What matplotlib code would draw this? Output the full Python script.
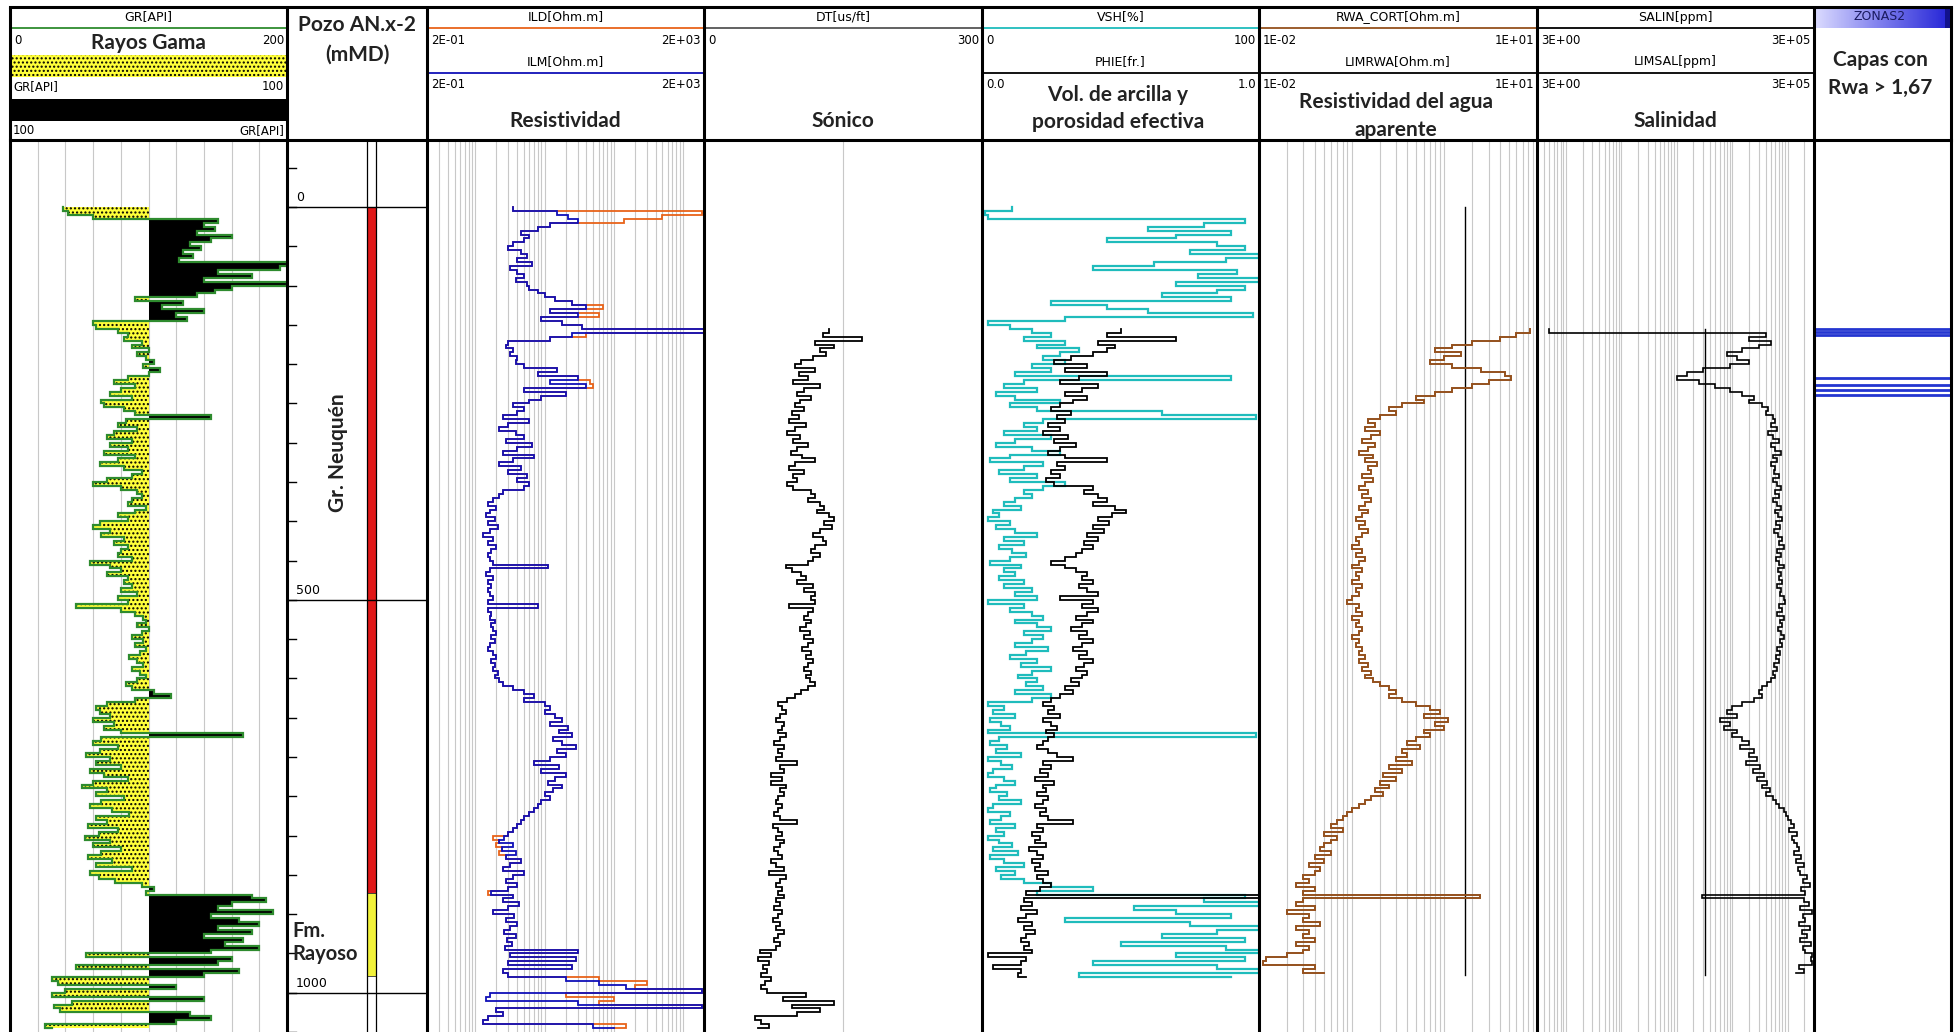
import numpy as np
import matplotlib
matplotlib.use("Agg")
import matplotlib.pyplot as plt
from matplotlib.patches import Rectangle
from matplotlib.colors import LinearSegmentedColormap

gr_top = 0
gr = [38, 42, 60, 150, 140, 148, 135, 160, 145, 130,
      138, 125, 132, 122, 200, 195, 150, 175, 140, 200,
      160, 148, 135, 90, 125, 110, 140, 120, 128, 60,
      62, 78, 85, 82, 95, 88, 100, 92, 98, 104,
      96, 108, 100, 85, 75, 90, 80, 72, 88, 66,
      68, 82, 90, 145, 84, 78, 92, 75, 70, 88,
      72, 85, 68, 90, 78, 65, 82, 95, 88, 70,
      60, 80, 92, 95, 88, 85, 98, 90, 78, 85,
      65, 60, 72, 66, 82, 75, 85, 80, 78, 88,
      58, 72, 80, 70, 85, 82, 88, 80, 92, 78,
      85, 48, 80, 90, 96, 98, 92, 100, 95, 88,
      96, 90, 98, 94, 86, 92, 96, 88, 94, 98,
      92, 84, 88, 104, 116, 90, 70, 62, 65, 72,
      60, 75, 68, 80, 168, 66, 60, 78, 65, 55,
      72, 62, 80, 58, 68, 85, 60, 52, 70, 62,
      82, 66, 58, 74, 86, 62, 70, 56, 78, 64,
      54, 72, 60, 80, 66, 56, 74, 62, 88, 58,
      64, 76, 95, 104, 98, 175, 185, 160, 150, 190,
      145, 165, 180, 150, 175, 140, 168, 155, 180, 145,
      55, 160, 150, 48, 165, 140, 30, 35, 120, 40,
      30, 140, 45, 32, 36, 130, 145, 120, 25, 30]

ilm_top = 0
ilm = [3.5, 15, 22, 30, 12, 8, 4.5, 6, 5, 3.5,
       3, 4.5, 5.5, 4, 6.5, 3.2, 4, 5, 3.8, 5.5,
       6, 8, 10, 14, 25, 40, 12, 30, 9, 18,
       35, 2000, 25, 12, 3, 2.8, 3.5, 3.2, 4, 3.8,
       5, 15, 8, 30, 12, 40, 5, 20, 9, 6,
       3.5, 5, 4, 2.5, 6, 3, 2.2, 3.8, 5, 2.8,
       6.5, 4, 2.5, 7, 3.5, 2.2, 4.5, 3, 5.5, 4,
       6, 5, 2.5, 2.2, 1.8, 1.5, 2.0, 1.6, 1.4, 1.9,
       1.5, 2.1, 1.6, 1.3, 1.8, 1.5, 2.0, 1.7, 1.5, 1.6,
       1.8, 11, 1.6, 1.4, 1.8, 1.5, 1.7, 1.5, 1.6, 1.8,
       1.5, 8, 1.5, 1.7, 1.6, 1.9, 1.7, 1.8, 2.0, 1.7,
       1.9, 1.6, 1.5, 1.8, 2.0, 1.7, 1.9, 1.8, 2.1, 1.9,
       2.2, 2.5, 3.5, 5, 7, 5, 10, 12, 10, 14,
       18, 12, 22, 16, 25, 13, 18, 28, 15, 20,
       12, 7, 16, 9, 20, 14, 11, 18, 13, 10,
       12, 9, 8, 7, 6, 5, 4.5, 4, 3.5, 3,
       2.6, 2.2, 3.5, 2.4, 3.8, 2.8, 4.5, 3.2, 2.5, 5,
       3.5, 2.8, 4, 3, 1.7, 3.5, 2.5, 4.2, 3, 1.8,
       3.6, 2.8, 4, 3.2, 2.6, 3.8, 2.9, 3.4, 2.7, 30,
       3.2, 28, 3, 25, 2.5, 3, 20, 60, 150, 1900,
       1.6, 1.4, 30, 1900, 2, 2.5, 1.5, 1.3, 50, 100]

# ILD sigue a ILM salvo en estas profundidades
ild_fix_depth = [5, 10, 15, 125, 135, 160, 220, 225, 800, 810, 820, 870,
                 980, 985, 990, 1000, 1005, 1010, 1040]
ild_fix_value = [1900, 500, 140, 70, 60, 40, 45, 50, 1.8, 2.0, 2.2, 1.5,
                 60, 300, 200, 20, 100, 60, 150]

dt_top = 155
dt = [135, 128, 170, 120, 140, 125, 132, 118, 105, 98,
      120, 102, 112, 96, 125, 108, 100, 115, 104, 98,
      108, 95, 102, 92, 110, 98, 90, 104, 96, 112,
      100, 94, 106, 120, 98, 92, 108, 96, 100, 90,
      96, 115, 120, 112, 125, 130, 122, 135, 140, 130,
      138, 125, 118, 128, 132, 120, 115, 125, 118, 112,
      88, 95, 105, 110, 100, 118, 108, 120, 115, 120,
      92, 118, 112, 108, 116, 110, 104, 114, 108, 118,
      112, 106, 115, 110, 118, 112, 108, 116, 110, 114,
      120, 112, 105, 98, 90, 80, 84, 88, 82, 78,
      86, 84, 80, 88, 82, 76, 86, 80, 84, 78,
      100, 82, 86, 72, 84, 72, 88, 82, 86, 80,
      78, 84, 80, 76, 82, 100, 74, 80, 84, 78,
      86, 82, 76, 80, 84, 72, 78, 86, 70, 88,
      82, 78, 84, 80, 86, 78, 82, 76, 84, 80,
      74, 82, 78, 86, 80, 76, 82, 78, 60, 72,
      58, 70, 64, 68, 62, 72, 66, 62, 68, 110,
      85, 140, 95, 125, 100, 55, 62, 70, 58]

vsh_top = 0
vsh = [11, 1, 2, 95, 80, 60, 90, 70, 45, 85,
       95, 75, 100, 88, 62, 40, 92, 78, 100, 70,
       95, 85, 65, 90, 25, 45, 60, 98, 30, 2,
       10, 18, 25, 15, 30, 20, 35, 28, 22, 30,
       18, 25, 12, 90, 15, 8, 20, 5, 12, 28,
       10, 20, 65, 99, 22, 15, 20, 8, 25, 12,
       5, 18, 28, 10, 3, 22, 15, 6, 20, 10,
       30, 22, 15, 18, 12, 8, 14, 4, 6, 2,
       10, 5, 12, 20, 8, 15, 6, 11, 16, 10,
       3, 14, 8, 12, 6, 15, 8, 18, 12, 20,
       2, 15, 10, 18, 22, 12, 20, 25, 15, 22,
       18, 12, 24, 16, 10, 20, 14, 25, 18, 13,
       20, 16, 22, 12, 25, 18, 2, 8, 4, 12,
       3, 7, 10, 2, 99, 6, 3, 9, 5, 14,
       2, 7, 11, 4, 2, 8, 12, 5, 3, 9,
       6, 14, 4, 2, 10, 7, 3, 12, 5, 8,
       2, 6, 11, 4, 13, 3, 8, 15, 5, 12,
       7, 15, 25, 40, 20, 95, 80, 100, 55, 70,
       90, 30, 75, 100, 85, 65, 95, 50, 88, 100,
       70, 95, 40, 85, 100, 35, 90]

phie_top = 155
phie = [0.50, 0.45, 0.70, 0.42, 0.48, 0.45, 0.40, 0.32, 0.26, 0.38,
        0.30, 0.45, 0.35, 0.28, 0.42, 0.36, 0.30, 0.38, 0.33, 0.28,
        0.25, 0.32, 0.27, 0.30, 0.24, 0.28, 0.22, 0.31, 0.26, 0.34,
        0.28, 0.24, 0.30, 0.45, 0.27, 0.30, 0.25, 0.28, 0.23, 0.26,
        0.40, 0.37, 0.42, 0.45, 0.40, 0.48, 0.52, 0.47, 0.42, 0.46,
        0.40, 0.44, 0.38, 0.42, 0.37, 0.40, 0.36, 0.34, 0.30, 0.25,
        0.30, 0.34, 0.38, 0.36, 0.40, 0.35, 0.38, 0.42, 0.28, 0.40,
        0.36, 0.42, 0.38, 0.34, 0.40, 0.36, 0.32, 0.38, 0.35, 0.40,
        0.36, 0.33, 0.38, 0.35, 0.40, 0.37, 0.34, 0.38, 0.36, 0.32,
        0.35, 0.30, 0.33, 0.28, 0.25, 0.22, 0.26, 0.24, 0.28, 0.22,
        0.25, 0.27, 0.23, 0.26, 0.24, 0.22, 0.20, 0.24, 0.27, 0.33,
        0.22, 0.25, 0.21, 0.24, 0.19, 0.26, 0.22, 0.23, 0.20, 0.24,
        0.22, 0.19, 0.23, 0.21, 0.24, 0.33, 0.20, 0.22, 0.18, 0.21,
        0.19, 0.23, 0.17, 0.20, 0.22, 0.18, 0.21, 0.19, 0.24, 0.20,
        0.22, 0.25, 0.21, 0.16, 1.0, 0.15, 0.18, 0.14, 0.20, 0.16,
        0.13, 0.18, 0.15, 0.19, 0.16, 0.14, 0.17, 0.15, 0.18, 0.02,
        0.16, 0.14, 0.04, 0.14, 0.13, 0.16]

rwa_top = 155
rwa = [8.5, 6, 4, 2.0, 1.2, 0.8, 1.5, 1.0, 0.7, 1.2,
       2.5, 4.5, 5.3, 3, 2, 1.2, 0.8, 0.5, 0.6, 0.35,
       0.25, 0.3, 0.2, 0.15, 0.18, 0.14, 0.2, 0.16, 0.13, 0.18,
       0.15, 0.12, 0.17, 0.14, 0.19, 0.15, 0.16, 0.13, 0.17, 0.14,
       0.12, 0.15, 0.13, 0.16, 0.14, 0.12, 0.15, 0.13, 0.11, 0.14,
       0.12, 0.15, 0.13, 0.11, 0.12, 0.10, 0.13, 0.11, 0.14, 0.12,
       0.10, 0.13, 0.11, 0.12, 0.10, 0.13, 0.11, 0.12, 0.10, 0.09,
       0.12, 0.11, 0.13, 0.10, 0.12, 0.11, 0.13, 0.12, 0.10, 0.12,
       0.11, 0.13, 0.12, 0.14, 0.12, 0.15, 0.13, 0.16, 0.14, 0.17,
       0.20, 0.25, 0.3, 0.25, 0.35, 0.5, 0.7, 0.9, 0.6, 1.1,
       0.8, 1.0, 0.6, 0.7, 0.5, 0.4, 0.55, 0.35, 0.4, 0.3,
       0.45, 0.25, 0.35, 0.22, 0.3, 0.2, 0.25, 0.18, 0.22, 0.16,
       0.14, 0.12, 0.1, 0.09, 0.08, 0.07, 0.06, 0.08, 0.05, 0.07,
       0.06, 0.05, 0.045, 0.06, 0.04, 0.05, 0.035, 0.045, 0.04, 0.03,
       0.035, 0.025, 0.04, 0.03, 2.45, 0.03, 0.025, 0.04, 0.02, 0.035,
       0.03, 0.045, 0.025, 0.035, 0.03, 0.04, 0.025, 0.035, 0.03, 0.02,
       0.012, 0.011, 0.04, 0.03, 0.05]

salin_top = 155
salin = [5, 40000, 20000, 50000, 30000, 15000, 8000, 12000, 20000, 9000,
         3000, 1500, 1000, 2500, 5000, 9000, 15000, 25000, 20000, 35000,
         45000, 40000, 55000, 60000, 50000, 65000, 45000, 55000, 70000, 50000,
         60000, 75000, 55000, 65000, 50000, 60000, 58000, 70000, 55000, 65000,
         75000, 60000, 70000, 55000, 65000, 75000, 60000, 68000, 80000, 62000,
         72000, 58000, 66000, 80000, 70000, 85000, 65000, 75000, 62000, 70000,
         85000, 68000, 75000, 70000, 80000, 65000, 75000, 72000, 85000, 90000,
         70000, 78000, 65000, 85000, 72000, 80000, 68000, 75000, 85000, 72000,
         78000, 65000, 72000, 62000, 70000, 58000, 65000, 55000, 60000, 50000,
         42000, 35000, 30000, 35000, 25000, 15000, 10000, 8000, 12000, 6000,
         9000, 7000, 12000, 10000, 15000, 20000, 14000, 25000, 20000, 28000,
         18000, 32000, 24000, 38000, 28000, 42000, 34000, 48000, 40000, 55000,
         62000, 70000, 85000, 95000, 100000, 115000, 130000, 105000, 150000, 120000,
         130000, 145000, 160000, 130000, 175000, 140000, 200000, 155000, 170000, 220000,
         190000, 250000, 175000, 210000, 2800, 200000, 240000, 170000, 280000, 190000,
         210000, 160000, 250000, 185000, 220000, 170000, 260000, 190000, 210000, 280000,
         270000, 280000, 160000, 200000, 140000]

limrwa = 1.67
limrwa_range = [0, 978]
limsal = 3300
limsal_range = [155, 978]

zonas = [155, 159, 163, 218, 227, 233, 239]

fm_names = ['Gr. Neuquén', 'Fm.\nRayoso']
fm_top = [0, 873]
fm_base = [873, 979]
fm_color = ['#e01818', '#f2f23a']
depth_labels = [0, 500, 1000]

# ---- layout ----
W, H = 1959, 1032
Y_TOP, Y_BOT = 141, 1032
D_TOP, D_BOT = -84, 1050
EDGES = [10, 287, 427, 704, 982, 1259, 1537, 1814, 1951]

plt.rcParams['hatch.color'] = 'black'
plt.rcParams['hatch.linewidth'] = 1.0

GRID = '#c8c8c8'
C_GR = '#2e8b2e'
C_YEL = '#ffff3a'
C_ILD = '#e8631a'
C_ILM = '#1010b8'
C_VSH = '#1fbcbc'
C_RWA = '#94501c'
TITLE = dict(fontfamily='Lato', fontweight='bold', fontsize=15, color='#222222',
             ha='center', va='center')
SMALL = dict(fontfamily='DejaVu Sans', fontsize=8.5, color='black', va='center')

fig = plt.figure(figsize=(W / 100, H / 100), dpi=100)


def box(x0, x1, y0, y1):
    return fig.add_axes([x0 / W, 1 - y1 / H, (x1 - x0) / W, (y1 - y0) / H])


def depths(top, n):
    return top + 5 * np.arange(n)


def track(i, xlim, log=False):
    ax = box(EDGES[i], EDGES[i + 1], Y_TOP, Y_BOT)
    if log:
        ax.set_xscale('log')
    ax.set_xlim(*xlim)
    ax.set_ylim(D_BOT, D_TOP)
    ax.set_axis_off()
    return ax


def log_grid(ax, lo, hi):
    e0, e1 = int(np.floor(np.log10(lo))), int(np.ceil(np.log10(hi)))
    v = [m * 10.0 ** e for e in range(e0, e1 + 1) for m in range(1, 10)]
    v = [t for t in v if lo * 1.01 < t < hi * 0.99]
    ax.vlines(v, D_TOP, D_BOT, color=GRID, lw=0.8, zorder=0)


def curve(ax, top, vals, color, lw):
    ax.plot(vals, depths(top, len(vals)), color=color, lw=lw,
            drawstyle='steps-pre', solid_joinstyle='miter')


# GR
ax = track(0, (0, 200))
ax.vlines(np.arange(20, 200, 20), D_TOP, D_BOT, color=GRID, lw=0.8, zorder=0)
g = np.array(gr, float)
dg = depths(gr_top, len(g))
ax.fill_betweenx(dg, np.minimum(g, 100), 100, step='post', facecolor=C_YEL,
                 edgecolor='black', hatch='....', linewidth=0)
ax.fill_betweenx(dg, 100, np.maximum(g, 100), step='post', facecolor='black',
                 linewidth=0)
curve(ax, gr_top, g, C_GR, 1.6)

# profundidad
axd = box(EDGES[1], EDGES[2], Y_TOP, Y_BOT)
axd.set_xlim(EDGES[1], EDGES[2])
axd.set_ylim(D_BOT, D_TOP)
axd.set_axis_off()
for t in range(-50, 1051, 50):
    axd.plot([EDGES[1], EDGES[1] + 9], [t, t], color='black', lw=1)
for t in depth_labels:
    axd.axhline(t, color='black', lw=1)
    axd.text(EDGES[1] + 9, t - 4, str(t), ha='left', va='bottom',
             fontfamily='DejaVu Sans', fontsize=9)
axd.axvline(367, color='black', lw=0.9)
axd.axvline(376, color='black', lw=0.9)
for top, base, c in zip(fm_top, fm_base, fm_color):
    axd.add_patch(Rectangle((367, top), 9, base - top, facecolor=c,
                            edgecolor='#333333', lw=0.6))
axd.text(338, 313, fm_names[0], rotation=90, **TITLE)
axd.text(292, 936, fm_names[1], fontfamily='Lato', fontweight='bold',
         fontsize=14.5, color='#222222', ha='left', va='center',
         linespacing=1.15)

# resistividad
ax = track(2, (0.2, 2000), log=True)
log_grid(ax, 0.2, 2000)
ild = np.array(ilm, float)
ild[(np.array(ild_fix_depth) - ilm_top) // 5] = ild_fix_value
curve(ax, ilm_top, ild, C_ILD, 1.3)
curve(ax, ilm_top, ilm, C_ILM, 1.3)

# sonico
ax = track(3, (0, 300))
ax.axvline(150, color=GRID, lw=0.8, zorder=0)
curve(ax, dt_top, dt, 'black', 1.3)

# vsh / phie
ax = track(4, (0, 100))
curve(ax, vsh_top, vsh, C_VSH, 1.6)
axp = ax.twiny()
axp.set_xlim(0, 1)
axp.set_axis_off()
curve(axp, phie_top, phie, 'black', 1.3)

# rwa
ax = track(5, (0.01, 10), log=True)
log_grid(ax, 0.01, 10)
ax.plot([limrwa, limrwa], limrwa_range, color='black', lw=1)
curve(ax, rwa_top, rwa, C_RWA, 1.4)

# salinidad
ax = track(6, (3, 3e5), log=True)
log_grid(ax, 3, 3e5)
ax.plot([limsal, limsal], limsal_range, color='black', lw=1)
curve(ax, salin_top, salin, 'black', 1.2)

# zonas
ax = track(7, (0, 1))
ax.hlines(zonas, 0, 1, color='#2436d0', lw=2.0)

# ---- cabecera y bordes ----
ov = fig.add_axes([0, 0, 1, 1], zorder=10)
ov.set_axis_off()


def head(i, name, color, lo, hi, row):
    x0, x1 = EDGES[i], EDGES[i + 1]
    y = [17, 62][row]
    ov.text((x0 + x1) / 2, y, name, ha='center', va='center',
            fontfamily='DejaVu Sans', fontsize=9, color='black')
    ov.plot([x0, x1], [y + 11, y + 11], color=color, lw=1.3)
    ov.text(x0 + 4, y + 23, lo, ha='left', **SMALL)
    ov.text(x1 - 3, y + 23, hi, ha='right', **SMALL)


head(0, 'GR[API]', C_GR, '0', '200', 0)
ov.text(148, 43, 'Rayos Gama', **TITLE)
ov.add_patch(Rectangle((10, 55), 277, 22, facecolor=C_YEL, edgecolor='black',
                       hatch='....', lw=0))
ov.text(13, 87, 'GR[API]', ha='left', **SMALL)
ov.text(284, 87, '100', ha='right', **SMALL)
ov.add_patch(Rectangle((10, 99), 277, 22, facecolor='black', lw=0))
ov.text(13, 131, '100', ha='left', **SMALL)
ov.text(284, 131, 'GR[API]', ha='right', **SMALL)

ov.text(357, 25, 'Pozo AN.x-2', **TITLE)
ov.text(357, 55, '(mMD)', **TITLE)

head(2, 'ILD[Ohm.m]', C_ILD, '2E-01', '2E+03', 0)
head(2, 'ILM[Ohm.m]', C_ILM, '2E-01', '2E+03', 1)
ov.text(565, 121, 'Resistividad', **TITLE)

head(3, 'DT[us/ft]', '#555555', '0', '300', 0)
ov.text(843, 121, 'Sónico', **TITLE)

head(4, 'VSH[%]', C_VSH, '0', '100', 0)
head(4, 'PHIE[fr.]', 'black', '0.0', '1.0', 1)
ov.text(1118, 95, 'Vol. de arcilla y', **TITLE)
ov.text(1118, 122, 'porosidad efectiva', **TITLE)

head(5, 'RWA_CORT[Ohm.m]', C_RWA, '1E-02', '1E+01', 0)
head(5, 'LIMRWA[Ohm.m]', 'black', '1E-02', '1E+01', 1)
ov.text(1396, 102, 'Resistividad del agua', **TITLE)
ov.text(1396, 130, 'aparente', **TITLE)

head(6, 'SALIN[ppm]', 'black', '3E+00', '3E+05', 0)
head(6, 'LIMSAL[ppm]', 'black', '3E+00', '3E+05', 1)
ov.text(1675, 121, 'Salinidad', **TITLE)

grad = LinearSegmentedColormap.from_list('zon', ['#dcdcff', '#8080ee', '#2a2ad8'])
ov.imshow(np.linspace(0, 1, 200)[None, :], extent=(1814, 1945, 28, 7),
          cmap=grad, aspect='auto')
ov.add_patch(Rectangle((1945, 7), 6, 21, facecolor='#12128c', lw=0))
ov.text(1880, 17, 'ZONAS2', ha='center', va='center', fontfamily='DejaVu Sans',
        fontsize=9, color='#1a1a60')
ov.text(1880, 60, 'Capas con', **TITLE)
ov.text(1880, 88, 'Rwa > 1,67', **TITLE)

for x in EDGES:
    ov.plot([x, x], [7, H], color='black', lw=2.2, solid_capstyle='butt')
ov.plot([EDGES[0], EDGES[-1]], [7, 7], color='black', lw=2.2)
ov.plot([EDGES[0], EDGES[-1]], [140, 140], color='black', lw=2.2)

ov.set_xlim(0, W)
ov.set_ylim(H, 0)

fig.savefig('out.png', dpi=100)
